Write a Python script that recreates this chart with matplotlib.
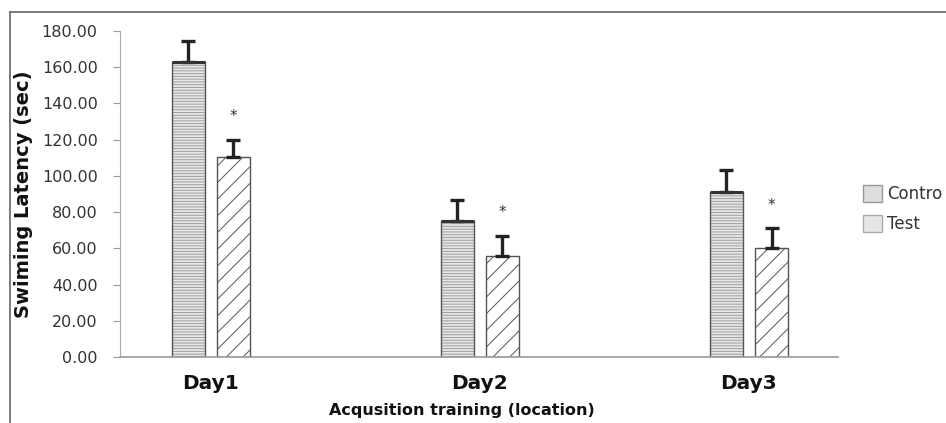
import matplotlib.pyplot as plt
from matplotlib.patches import Patch
from matplotlib.lines import Line2D
import numpy as np

days = ['Day1', 'Day2', 'Day3']
control = [163.0, 75.0, 91.0]
control_err = [11.5, 11.5, 12.0]
test = [110.5, 56.0, 60.0]
test_err = [9.5, 11.0, 11.0]
yticks = [0, 20, 40, 60, 80, 100, 120, 140, 160, 180]

plt.rcParams['font.family'] = ['DejaVu Sans']
plt.rcParams['hatch.linewidth'] = 0.7

fig = plt.figure(figsize=(9.46, 4.23), dpi=100)
ax = fig.add_axes([0.1268, 0.156, 0.759, 0.771])

x = np.arange(len(days))
w = 0.123
off = 0.084

# контроль: серый с горизонтальной штриховкой (штриховка светлее контура)
ax.bar(x - off, control, w, color='#e6e6e6', edgecolor='#a0a0a0',
       hatch='------', linewidth=0, zorder=2)
ax.bar(x - off, control, w, color='none', edgecolor='#555555',
       linewidth=1.0, zorder=2)
ax.errorbar(x - off, control, yerr=[np.zeros(3), control_err], fmt='none',
            ecolor='#222222', elinewidth=2.4, capsize=5, capthick=2.4, zorder=3)
ax.hlines(control, x - off - w / 2, x - off + w / 2, color='#333333', lw=2.2, zorder=3)

# тест: белый с косой штриховкой
ax.bar(x + off, test, w, color='white', edgecolor='#555555',
       hatch='//', linewidth=1.0, zorder=2)
ax.errorbar(x + off, test, yerr=[np.zeros(3), test_err], fmt='none',
            ecolor='#222222', elinewidth=2.4, capsize=5, capthick=2.4, zorder=3)

# звёздочки
for xi, t, e in zip(x, test, test_err):
    ax.text(xi + off, t + e + 12.5, '*', ha='center', va='center',
            fontsize=11, color='#333333')

ax.set_xlim(-0.338, 2.331)
ax.set_ylim(0, 180)
ax.set_yticks(yticks)
ax.set_yticklabels([f'{v:.2f}' for v in yticks], fontsize=11.5, color='#333333')
ax.set_xticks(x)
ax.set_xticklabels(days, fontsize=14.5, fontweight='bold', color='#111111')
ax.tick_params(axis='x', length=0, pad=12)
ax.tick_params(axis='y', length=5, color='#999999', direction='out', pad=11)

for s in ['top', 'right']:
    ax.spines[s].set_visible(False)
ax.spines['left'].set_color('#aaaaaa')
ax.spines['bottom'].set_color('#999999')
ax.spines['bottom'].set_linewidth(1.2)

ax.set_ylabel('Swiming Latency (sec)', fontsize=14, fontweight='bold',
              color='#111111', labelpad=6)
ax.set_xlabel('Acqusition training (location)', fontsize=11.5,
              fontweight='bold', color='#111111')
ax.xaxis.set_label_coords(0.476, -0.14)

# легенда (в оригинале подпись обрезана краем рисунка)
handles = [Patch(facecolor='#dddddd', edgecolor='#999999'),
           Patch(facecolor='#e6e6e6', edgecolor='#aaaaaa')]
fig.legend(handles, ['Contro', 'Test'], loc='upper left',
           bbox_to_anchor=(0.896, 0.598), frameon=False, fontsize=12,
           handlelength=1.15, handleheight=1.2, labelspacing=0.7,
           handletextpad=0.3, labelcolor='#333333')

# рамка области
fig.add_artist(Line2D([0.0106, 0.0106], [0, 0.972], color='#666666', lw=1.2))
fig.add_artist(Line2D([0.0106, 1.0], [0.972, 0.972], color='#666666', lw=1.2))

fig.savefig('out.png', dpi=100)
